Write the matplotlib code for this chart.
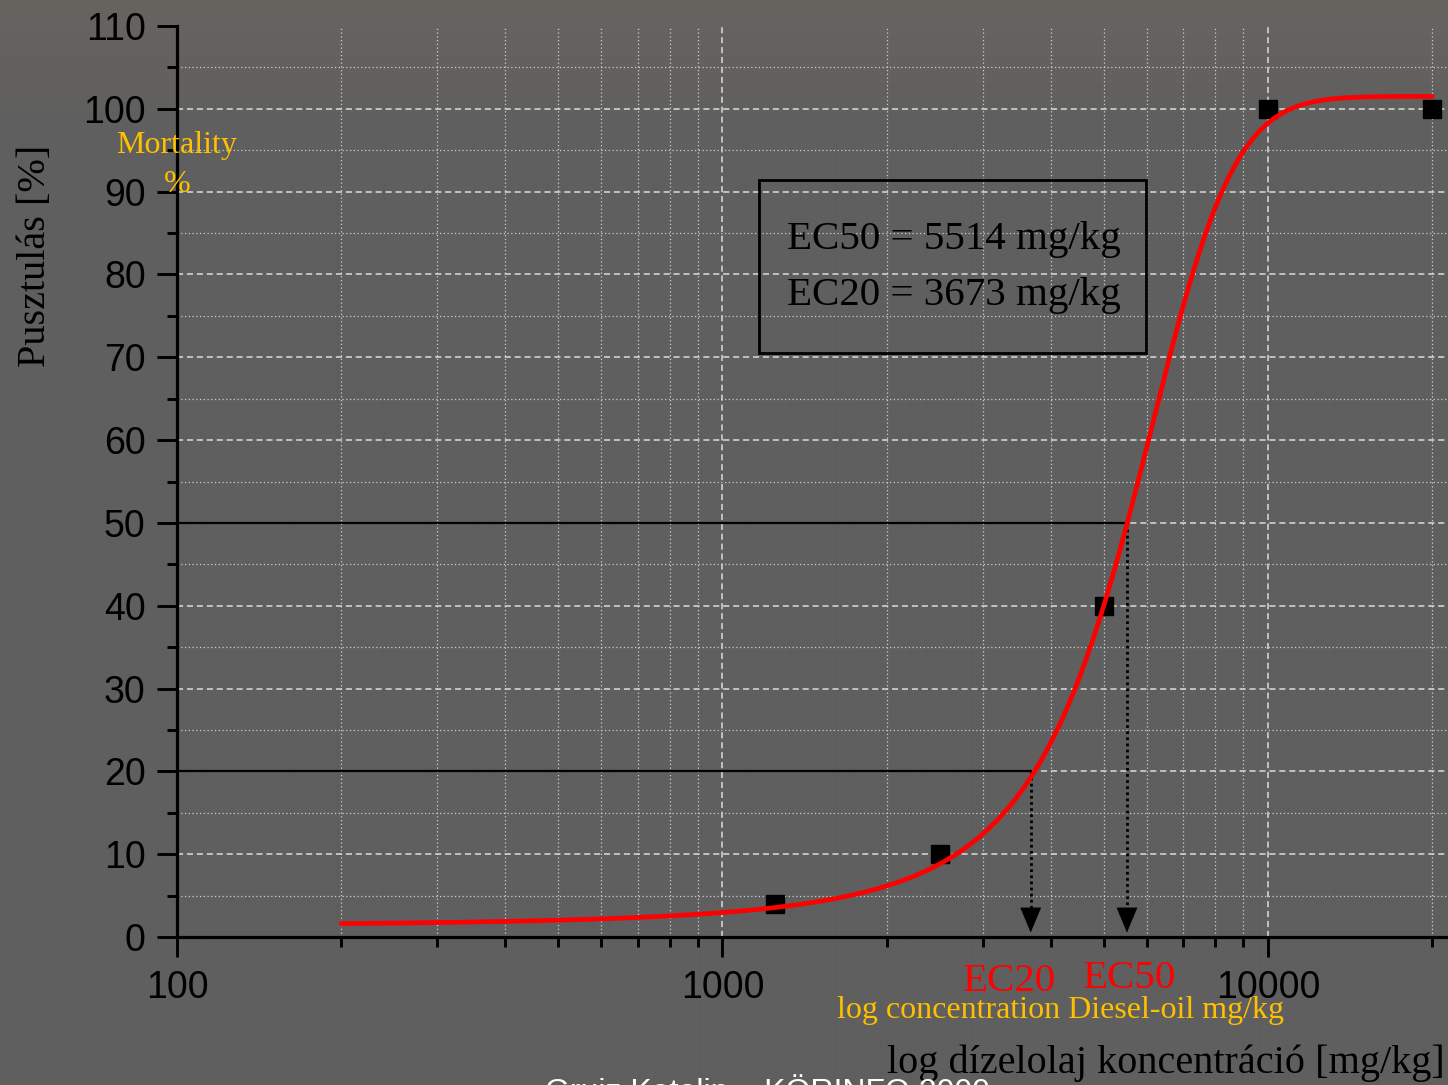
import numpy as np
import matplotlib
matplotlib.use('Agg')
import matplotlib.pyplot as plt
from matplotlib.patches import Rectangle
from matplotlib.ticker import FixedLocator, FixedFormatter, NullFormatter

# ---------------- data ----------------
dose = [1250, 2500, 5000, 10000, 20000]          # mg/kg
mortality = [4, 10, 40, 100, 100]                # %

# fitted (Boltzmann) dose-response curve parameters
fit_A1 = 0.0
fit_A2 = 101.5
fit_x0 = 5559.0
fit_dx = 1300.0
fit_xmin, fit_xmax = 200, 20000

ec50 = 5514
ec20 = 3673
ec_values = [ec50, ec20]
ec_levels = [50, 20]

xmajor = [100, 1000, 10000]
xmajor_labels = ['100', '1000', '10000']
xminor = [200, 300, 400, 500, 600, 700, 800, 900,
          2000, 3000, 4000, 5000, 6000, 7000, 8000, 9000, 20000]
ymajor = list(range(0, 111, 10))
yminor = list(range(5, 110, 10))

box_lines = ['EC50 = 5514 mg/kg', 'EC20 = 3673 mg/kg']
ylabel_hu = 'Pusztulás [%]'
ylabel_en = ['Mortality', '%']
xlabel_en = 'log concentration Diesel-oil mg/kg'
xlabel_hu = 'log dízelolaj koncentráció [mg/kg]'
credit = 'Gruiz Katalin – KÖRINFO 2000'

# ---------------- figure ----------------
W, H = 1448, 1085
fig = plt.figure(figsize=(W / 100, H / 100), dpi=100)
fig.patch.set_facecolor('#5f5f5f')

def fx(x):
    return x / W

def fy(y):
    return 1 - y / H

# background gradient (warmer grey at the top)
bg = fig.add_axes([0, 0, 1, 1], zorder=-10)
bg.axis('off')
t = np.clip(np.arange(H) / 140.0, 0, 1)[:, None]
top = np.array([103, 100, 96]) / 255.0
base = np.array([95, 95, 95]) / 255.0
img = top[None, None, :] * (1 - t[:, :, None]) + base[None, None, :] * t[:, :, None]
img = np.repeat(img, 4, axis=1)
bg.imshow(img, aspect='auto', extent=[0, 1, 0, 1], interpolation='bilinear')

ax = fig.add_axes([fx(177), fy(937), (W - 177) / W, (937 - 26) / H])
ax.set_facecolor('none')
ax.set_xscale('log')
ax.set_xlim(100, 21380)
ax.set_ylim(0, 110)

for s in ['top', 'right']:
    ax.spines[s].set_visible(False)
for s in ['left', 'bottom']:
    ax.spines[s].set_linewidth(2.3)
    ax.spines[s].set_color('black')

ax.xaxis.set_major_locator(FixedLocator(xmajor))
ax.xaxis.set_major_formatter(FixedFormatter(xmajor_labels))
ax.xaxis.set_minor_locator(FixedLocator(xminor))
ax.xaxis.set_minor_formatter(NullFormatter())
ax.yaxis.set_major_locator(FixedLocator(ymajor))
ax.yaxis.set_minor_locator(FixedLocator(yminor))
ax.yaxis.set_minor_formatter(NullFormatter())

ax.tick_params(which='major', length=14.5, width=2.1, direction='out', color='black',
               labelsize=27, labelcolor='black')
ax.tick_params(which='minor', length=7.5, width=2.1, direction='out', color='black')
ax.tick_params(axis='x', which='major', pad=9)
ax.tick_params(axis='y', which='major', pad=8)
for lab in ax.get_xticklabels() + ax.get_yticklabels():
    lab.set_fontfamily('Liberation Sans')

ax.grid(True, which='major', color='#dcdcdc', lw=1.1, linestyle=(0, (4, 2.5)))
ax.grid(True, which='minor', color='#cdcdcd', lw=0.9, linestyle=(0, (1, 2)))
for tk in ax.yaxis.get_major_ticks():
    if tk.get_loc() in (0, 110):
        tk.gridline.set_visible(False)
for tk in ax.xaxis.get_major_ticks():
    if tk.get_loc() == 100:
        tk.gridline.set_visible(False)

# EC reference lines and dotted arrows
for ec, lev in zip(ec_values, ec_levels):
    ax.plot([100, ec], [lev, lev], color='black', lw=1.6, zorder=3)
    ax.plot([ec, ec], [lev, 2.9], color='black', lw=2, ls=(0, (1, 1.2)), zorder=3)
    ax.annotate('', xy=(ec, 0.55), xytext=(ec, 3.3),
                arrowprops=dict(arrowstyle='-|>,head_length=1.0,head_width=0.42',
                                mutation_scale=17, color='black', lw=0.5,
                                shrinkA=0, shrinkB=0), zorder=3)

# data squares
ax.plot(dose, mortality, 's', color='black', ms=13, zorder=4, clip_on=False)

# fitted curve
xc = np.logspace(np.log10(fit_xmin), np.log10(fit_xmax), 500)
yc = fit_A1 + (fit_A2 - fit_A1) / (1 + np.exp((fit_x0 - xc) / fit_dx))
ax.plot(xc, yc, color='#ff0000', lw=3.4, zorder=5, solid_capstyle='round')

# ---------------- texts ----------------
serif = 'Liberation Serif'
sans = 'Liberation Sans'
gold = '#ffc000'

fig.text(fx(36), fy(255.5), ylabel_hu, rotation=90, ha='center', va='center',
         fontsize=29, family=serif, color='black')
fig.text(fx(177), fy(145), ylabel_en[0], ha='center', va='center',
         fontsize=23, family=serif, color=gold)
fig.text(fx(177), fy(184), ylabel_en[1], ha='center', va='center',
         fontsize=23, family=serif, color=gold)

box = Rectangle((fx(758.5), fy(352.5)), (1146 - 758.5) / W, (352.5 - 180) / H,
                transform=fig.transFigure, fill=False, ec='black', lw=2, zorder=6)
fig.add_artist(box)
fig.text(fx(787), fy(248.5), box_lines[0], ha='left', va='baseline',
         fontsize=29.5, family=serif, color='black')
fig.text(fx(787), fy(305), box_lines[1], ha='left', va='baseline',
         fontsize=29.5, family=serif, color='black')

fig.text(fx(1009), fy(991), 'EC20', ha='center', va='baseline',
         fontsize=29.5, family=serif, color='#ff0000')
fig.text(fx(1129), fy(988), 'EC50', ha='center', va='baseline',
         fontsize=29.5, family=serif, color='#ff0000')

fig.text(fx(1060.5), fy(1018), xlabel_en, ha='center', va='baseline',
         fontsize=23, family=serif, color=gold)
fig.text(fx(887), fy(1073), xlabel_hu, ha='left', va='baseline',
         fontsize=29, family=serif, color='black')
fig.text(fx(545), fy(1101), credit, ha='left', va='baseline',
         fontsize=23, family=sans, color='white')

fig.savefig('out.png', dpi=100, facecolor=fig.get_facecolor())
